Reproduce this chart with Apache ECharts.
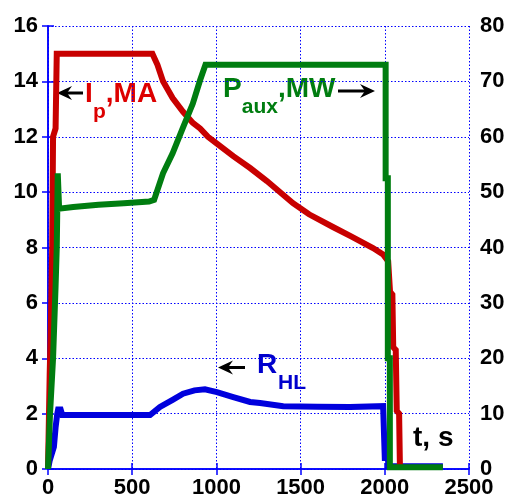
<!DOCTYPE html>
<html>
<head>
<meta charset="utf-8">
<script src="https://cdn.jsdelivr.net/npm/echarts@6/dist/echarts.min.js"></script>
<style>
html,body{margin:0;padding:0;background:#fff;}
#main{width:512px;height:499px;}
</style>
</head>
<body>
<div id="main"></div>
<script>
// plasma current, MA (left axis)
var ipT = [0, 5, 10, 18, 25, 30, 45, 52, 300, 620, 650, 683, 740, 802, 860, 903, 950, 1003, 1100, 1200, 1300, 1455, 1550, 1692, 1800, 1930, 1990, 2020, 2031, 2045, 2050, 2065, 2071, 2085, 2090];
var ipV = [0, 1.7, 3.4, 5.5, 8, 12, 12.3, 15, 15, 15, 14.6, 14.0, 13.4, 12.9, 12.5, 12.3, 12.0, 11.75, 11.3, 10.87, 10.4, 9.6, 9.2, 8.74, 8.4, 7.98, 7.75, 7.5, 6.4, 6.3, 4.4, 4.3, 2.1, 2.0, 0];
// auxiliary heating power, MW (right axis)
var pauxT = [0, 12, 30, 45, 52, 58, 66, 66, 150, 300, 450, 600, 630, 683, 740, 802, 860, 903, 935, 2005, 2005, 2018, 2018, 2030, 2030, 2345];
var pauxV = [0, 10, 20, 33, 40, 53.4, 53.4, 47, 47.3, 47.7, 48, 48.3, 48.6, 53.4, 57, 61.7, 66, 70.2, 73, 73, 52.5, 52.5, 20, 20, 0.3, 0.3];
// R_HL (left axis)
var rhlT = [0, 10, 25, 35, 45, 55, 60, 75, 85, 300, 606, 665, 740, 802, 870, 932, 1003, 1100, 1200, 1259, 1397, 1600, 1793, 1990, 2000, 2000, 2020, 2020, 2345];
var rhlV = [0, 0.3, 0.6, 0.8, 1.5, 2.0, 2.15, 2.15, 1.95, 1.95, 1.95, 2.24, 2.5, 2.72, 2.84, 2.88, 2.78, 2.6, 2.42, 2.38, 2.27, 2.25, 2.24, 2.27, 2.2, 0.4, 0.4, 0.1, 0.1];

var xTicks = [0, 2500, 500];
var yLeft = [0, 16, 2];
var yRight = [0, 80, 10];

function zip(a, b){
	var out = [];
	for(var i = 0; i < a.length; i++){
		out.push([a[i], b[i]]);
	}
	return out;
}

var FONT = '"Liberation Sans", Arial, sans-serif';
var BLUE = '#0000ff';
var axisLine = {lineStyle: {color: BLUE, width: 1.5}};
var axisTick = {inside: true, length: 6, lineStyle: {color: BLUE, width: 1.5}};
var axisLabel = {color: '#000', fontSize: 22, fontWeight: 'bold', fontFamily: FONT, formatter: function(v){ return String(v); }};
var gridLine = {show: true, lineStyle: {color: BLUE, width: 1, type: [1.5, 2]}};

function txt(s, x, y, size, color){
	return {
		type: 'text', x: x, y: y, silent: true,
		style: {text: s, fill: color, font: 'bold ' + size + 'px ' + FONT, verticalAlign: 'middle', textVerticalAlign: 'middle'}
	};
}
function arrow(x1, x2, y){
	// head at x2
	var d = x2 < x1 ? 1 : -1;
	return [
		{type: 'line', silent: true, shape: {x1: x1, y1: y, x2: x2 + d * 6, y2: y}, style: {stroke: '#000', lineWidth: 3}},
		{type: 'polygon', silent: true, shape: {points: [[x2, y], [x2 + d * 15, y - 7], [x2 + d * 10, y], [x2 + d * 15, y + 7]]}, style: {fill: '#000'}}
	];
}

var RED = '#c80000', GREEN = '#007d10', LBLUE = '#0000dd';

var myChart = echarts.init(document.getElementById('main'));
var option = {
	animation: false,
	backgroundColor: '#fff',
	grid: {left: 48, right: 43, top: 26, bottom: 30},
	xAxis: [{
		type: 'value', min: xTicks[0], max: xTicks[1], interval: xTicks[2], position: 'bottom',
		axisLine: axisLine, axisTick: axisTick,
		axisLabel: Object.assign({}, axisLabel, {margin: 8}),
		splitLine: gridLine
	}, {
		type: 'value', min: xTicks[0], max: xTicks[1], interval: xTicks[2], position: 'top',
		axisLine: axisLine, axisTick: axisTick, axisLabel: {show: false}, splitLine: {show: false}
	}],
	yAxis: [{
		type: 'value', min: yLeft[0], max: yLeft[1], interval: yLeft[2], position: 'left',
		axisLine: {show: true, lineStyle: axisLine.lineStyle}, axisTick: axisTick,
		axisLabel: Object.assign({}, axisLabel, {margin: 10}),
		splitLine: gridLine
	}, {
		type: 'value', min: yRight[0], max: yRight[1], interval: yRight[2], position: 'right',
		axisLine: {show: true, lineStyle: axisLine.lineStyle}, axisTick: axisTick,
		axisLabel: Object.assign({}, axisLabel, {margin: 11}),
		splitLine: {show: false}
	}],
	series: [{
		name: 'R_HL', type: 'line', yAxisIndex: 0, data: zip(rhlT, rhlV),
		showSymbol: false, color: LBLUE, lineStyle: {color: LBLUE, width: 6, join: 'miter', miterLimit: 2}
	}, {
		name: 'Ip', type: 'line', yAxisIndex: 0, data: zip(ipT, ipV),
		showSymbol: false, color: RED, lineStyle: {color: RED, width: 6, join: 'miter', miterLimit: 2}
	}, {
		name: 'Paux', type: 'line', yAxisIndex: 1, data: zip(pauxT, pauxV),
		showSymbol: false, color: GREEN, lineStyle: {color: GREEN, width: 6, join: 'miter', miterLimit: 2}
	}],
	graphic: [].concat(
		[txt('I', 85, 94.3, 28, '#dd0000'), txt('p', 93, 112.7, 21, '#dd0000'), txt(',MA', 105.8, 94.3, 28, '#dd0000')],
		arrow(83, 57, 93),
		[txt('P', 223, 89.3, 28, GREEN), txt('aux', 241.7, 107.7, 21, GREEN), txt(',MW', 278, 89.3, 28, GREEN)],
		arrow(338, 375, 91),
		[txt('R', 257, 365.3, 28, '#0000cc'), txt('HL', 278, 383.7, 21, '#0000cc')],
		arrow(245, 218, 367.5),
		[txt('t, s', 413, 438.3, 28, '#000')]
	)
};
myChart.setOption(option);
</script>
</body>
</html>
